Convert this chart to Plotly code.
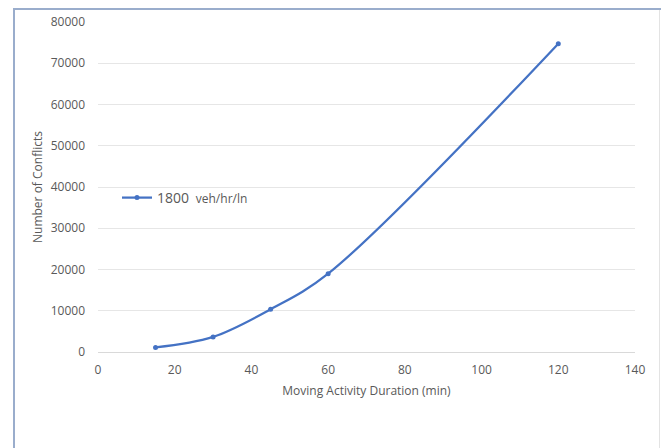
import plotly.graph_objects as go

durations = [15, 30, 45, 60, 120]
conflicts = [1100, 3650, 10350, 19000, 74750]
series_name = "1800 <span style='font-size:12px'> veh/hr/ln</span>"
x_ticks = [0, 20, 40, 60, 80, 100, 120, 140]
y_ticks = [0, 10000, 20000, 30000, 40000, 50000, 60000, 70000, 80000]
y_tick_labels = ["0", "10000", "20000", "30000", "40000", "50000", "60000", "70000", "80000"]

W, H = 661, 448
L, R, T, B = 98, 26, 22, 96
pw, ph = W - L - R, H - T - B

def px(x):
    return (x - L) / pw

def py(y):
    return (H - B - y) / ph

blue = "#4472C4"
grey = "#595959"
font = "Open Sans"

fig = go.Figure()
fig.add_trace(go.Scatter(
    x=durations, y=conflicts, mode="lines+markers", name=series_name,
    line=dict(color=blue, width=2.25, shape="spline", smoothing=1),
    marker=dict(color=blue, size=5),
))

fig.update_layout(
    width=W, height=H,
    margin=dict(l=L, r=R, t=T, b=B, pad=0, autoexpand=False),
    paper_bgcolor="white", plot_bgcolor="white",
    font=dict(family=font, size=12, color=grey),
    showlegend=True,
    legend=dict(x=px(117), y=py(198), xanchor="left", yanchor="middle",
                font=dict(family=font, size=14, color=grey),
                bgcolor="rgba(0,0,0,0)", itemwidth=30, tracegroupgap=0),
    xaxis=dict(range=[0, 140], tickvals=x_ticks, showgrid=False,
               zeroline=False, showline=False, ticks="", automargin=False,
               ticklabelstandoff=9,
               tickfont=dict(size=12, color=grey),
               title=dict(text="Moving Activity Duration (min)", standoff=9,
                          font=dict(size=12, color=grey))),
    yaxis=dict(range=[0, 80000], tickvals=y_ticks, ticktext=y_tick_labels,
               showgrid=True, automargin=False,
               gridcolor="#E6E6E6", gridwidth=1, zeroline=True,
               zerolinecolor="#D9D9D9", zerolinewidth=1, showline=False,
               ticks="", ticklabelstandoff=12,
               tickfont=dict(size=12, color=grey),
               title=dict(text="Number of Conflicts", standoff=5,
                          font=dict(size=12, color=grey))),
    shapes=[
        dict(type="line", xref="paper", yref="paper",
             x0=px(14), x1=px(14), y0=py(9), y1=py(460),
             line=dict(color="#9AADCC", width=2)),
        dict(type="line", xref="paper", yref="paper",
             x0=px(13), x1=px(661), y0=py(9), y1=py(9),
             line=dict(color="#9AADCC", width=2)),
        dict(type="line", xref="paper", yref="paper",
             x0=px(659.5), x1=px(659.5), y0=py(10), y1=py(460),
             line=dict(color="#E3E3E3", width=1)),
    ],
)

fig.write_html("out.html", config={"displayModeBar": False},
               post_script="document.body.style.margin='0px';")
